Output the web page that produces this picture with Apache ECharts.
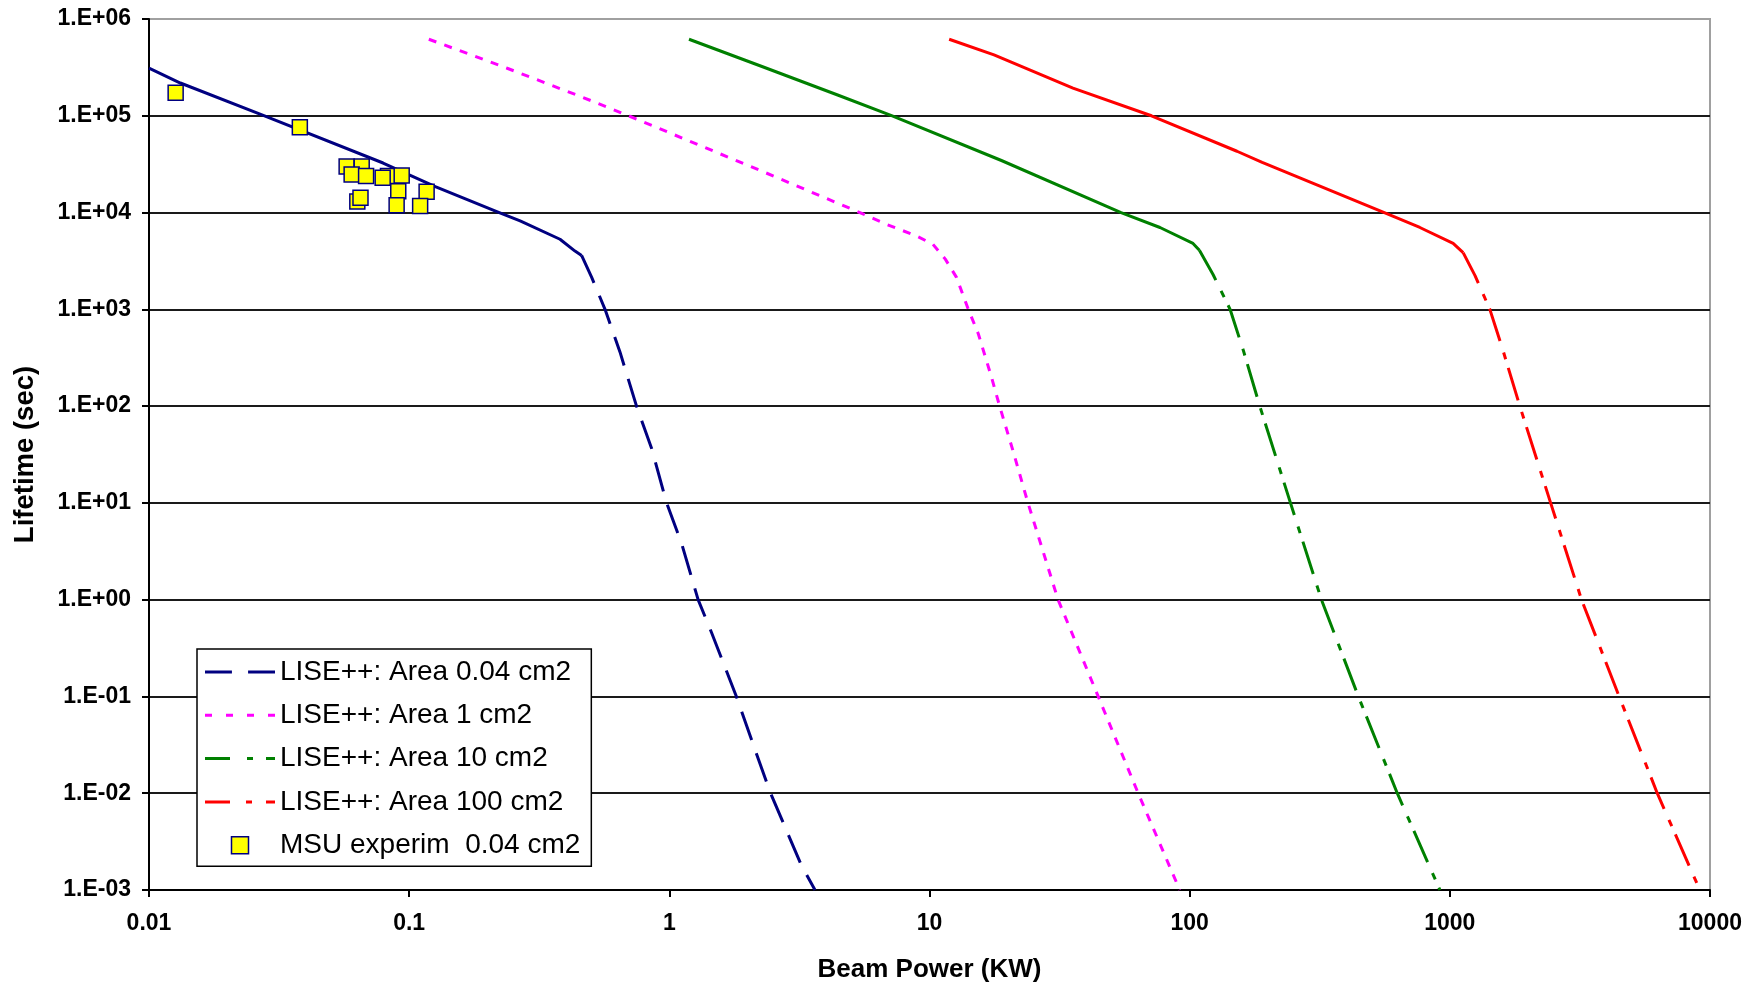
<!DOCTYPE html>
<html>
<head>
<meta charset="utf-8">
<script src="https://cdn.jsdelivr.net/npm/echarts@6/dist/echarts.min.js"></script>
<style>
html,body{margin:0;padding:0;background:#ffffff;}
#chart{width:1755px;height:988px;}
</style>
</head>
<body>
<div id="chart"></div>
<script>
// ---------------- DATA ----------------
const seriesNames = [
  'LISE++: Area 0.04 cm2',
  'LISE++: Area 1 cm2',
  'LISE++: Area 10 cm2',
  'LISE++: Area 100 cm2',
  'MSU experim  0.04 cm2'
];

const xTickLabels = ['0.01', '0.1', '1', '10', '100', '1000', '10000'];
const yTickLabels = ['1.E-03', '1.E-02', '1.E-01', '1.E+00', '1.E+01', '1.E+02', '1.E+03', '1.E+04', '1.E+05', '1.E+06'];

// Area 0.04 cm2 : beam power (kW) / lifetime (s)
const blueUpperP = [0.01, 0.0132, 0.0278, 0.0794, 0.126, 0.222, 0.267, 0.38, 0.434, 0.46];
const blueUpperT = [3.1e5, 2.18e5, 1.0e5, 3.25e4, 1.85e4, 1.0e4, 8.2e3, 5.3e3, 4.0e3, 3.6e3];
const blueLowerP = [0.503, 0.566, 0.646, 0.748, 0.855, 0.976, 1.114, 1.29, 1.455, 1.81, 2.2, 2.45, 3.22, 3.63];
const blueLowerT = [2140, 1000, 363, 100, 36.4, 10, 3.83, 1.0, 0.453, 0.1, 0.0224, 0.01, 0.00179, 0.001];

// Area 1 cm2
const magentaP = [0.119, 0.238, 0.462, 0.697, 2.32, 5.4, 6.84, 8.91, 10.3, 11.5, 12.7, 14.1, 15.4, 17.3, 18.6, 21.0, 23.9, 31.2, 44.5, 63.4, 91.6];
const magentaT = [6.18e5, 3.1e5, 1.56e5, 1.0e5, 2.61e4, 1.0e4, 7550, 5730, 4710, 3300, 2140, 1000, 560, 200, 100, 33.6, 10, 1.0, 0.1, 0.01, 0.001];

// Area 10 cm2
const greenUpperP = [1.19, 2.27, 4.41, 7.19, 18.9, 54.5, 76.9, 103, 109];
const greenUpperT = [6.18e5, 3.23e5, 1.65e5, 1.0e5, 3.45e4, 1.0e4, 7010, 4800, 4070];
const greenLowerP = [123, 143, 161, 186, 244, 321, 445, 628, 916];
const greenLowerT = [2290, 1000, 372, 100, 10, 1.0, 0.1, 0.01, 0.001];

// Area 100 cm2
const redUpperP = [11.9, 17.7, 35.6, 71.3, 152, 190, 560, 767, 1030, 1125];
const redUpperT = [6.18e5, 4.26e5, 1.93e5, 1.0e5, 4.3e4, 3.3e4, 1.0e4, 7010, 4800, 3850];
const redLowerP = [1250, 1425, 1603, 1858, 2440, 3208, 4475, 6270, 9140];
const redLowerT = [2230, 1000, 372, 100, 10, 1.0, 0.1, 0.01, 0.001];

// MSU experimental points, 0.04 cm2
const msuP = [0.01266, 0.038, 0.0575, 0.0657, 0.0601, 0.0683, 0.0829, 0.0791, 0.0936, 0.0908, 0.1167, 0.0632, 0.065, 0.0895, 0.1102];
const msuT = [1.73e5, 7.6e4, 3.0e4, 3.0e4, 2.47e4, 2.38e4, 2.38e4, 2.29e4, 2.42e4, 1.66e4, 1.64e4, 1.30e4, 1.42e4, 1.19e4, 1.17e4];

// ---------------- CHART ----------------
const FONT = '"Liberation Sans", Arial, sans-serif';
const NAVY = '#000080', MAGENTA = '#FF00FF', GREEN = '#008000', RED = '#FF0000', YELLOW = '#FFFF00';

function pairs(p, t) { return p.map(function (v, i) { return [v, t[i]]; }); }
function joinLower(upP, upT, loP, loT) {
  const n = upP.length - 1;
  return [[upP[n], upT[n]]].concat(pairs(loP, loT));
}

function lineSeries(name, data, color, type, z) {
  return {
    name: name, type: 'line', data: data, symbol: 'none', smooth: false,
    silent: true, z: z || 2,
    itemStyle: { color: color },
    lineStyle: { color: color, width: 3, type: type, cap: 'butt', join: 'round' }
  };
}

const option = {
  animation: false,
  backgroundColor: '#ffffff',
  grid: {
    left: 149, right: 45, top: 19, bottom: 95,
    show: true, backgroundColor: '#ffffff', borderColor: '#a0a0a0', borderWidth: 2
  },
  legend: {
    orient: 'vertical', left: 197, top: 649,
    padding: [9, 11, 7, 8], itemGap: 15.3, itemWidth: 70, itemHeight: 17,
    borderColor: '#000000', borderWidth: 1.5, backgroundColor: '#ffffff',
    selectedMode: false,
    textStyle: { fontSize: 28, fontFamily: FONT, color: '#000000' },
    data: [
      { name: seriesNames[0], icon: 'path://M0,0h25v3h-25z M40,0h25v3h-25z', itemStyle: { color: NAVY, borderWidth: 0 } },
      { name: seriesNames[1], icon: 'path://M0,0h7v3h-7z M21,0h7v3h-7z M42,0h7v3h-7z M63,0h7v3h-7z', itemStyle: { color: MAGENTA, borderWidth: 0 } },
      { name: seriesNames[2], icon: 'path://M0,0h25v3h-25z M42,0h6v3h-6z M61,0h9v3h-9z', itemStyle: { color: GREEN, borderWidth: 0 } },
      { name: seriesNames[3], icon: 'path://M0,0h25v3h-25z M41,0h6v3h-6z M61,0h9v3h-9z', itemStyle: { color: RED, borderWidth: 0 } },
      { name: seriesNames[4], icon: 'path://M0,0h10v10h-10z', itemStyle: { color: YELLOW, borderColor: NAVY, borderWidth: 1.5 } }
    ]
  },
  xAxis: {
    type: 'log', logBase: 10, min: 0.01, max: 10000, splitNumber: 10,
    name: 'Beam Power (KW)', nameLocation: 'middle', nameGap: 67,
    nameTextStyle: { fontSize: 26, fontWeight: 'bold', color: '#000000', fontFamily: FONT },
    axisLine: { show: true, onZero: false, lineStyle: { color: '#000000', width: 2 } },
    axisTick: { show: true, length: 7, lineStyle: { color: '#000000', width: 2 } },
    axisLabel: {
      fontSize: 23, fontWeight: 'bold', color: '#000000', fontFamily: FONT, margin: 22,
      formatter: function (v) { return xTickLabels[Math.round(Math.log10(v)) + 2]; }
    },
    splitLine: { show: false }
  },
  yAxis: {
    type: 'log', logBase: 10, min: 0.001, max: 1000000, splitNumber: 10,
    name: 'Lifetime (sec)', nameLocation: 'middle', nameGap: 110, nameRotate: 90,
    nameTextStyle: { fontSize: 27.5, fontWeight: 'bold', color: '#000000', fontFamily: FONT },
    axisLine: { show: true, onZero: false, lineStyle: { color: '#000000', width: 2 } },
    axisTick: { show: true, length: 7, lineStyle: { color: '#000000', width: 2 } },
    axisLabel: {
      fontSize: 23, fontWeight: 'bold', color: '#000000', fontFamily: FONT, margin: 18,
      formatter: function (v) { return yTickLabels[Math.round(Math.log10(v)) + 3]; }
    },
    splitLine: { show: true, showMaxLine: false, lineStyle: { color: '#1a1a1a', width: 2 } }
  },
  series: [
    lineSeries(seriesNames[0], pairs(blueUpperP, blueUpperT), NAVY, 'solid'),
    lineSeries(seriesNames[0], joinLower(blueUpperP, blueUpperT, blueLowerP, blueLowerT), NAVY, [30, 14]),
    lineSeries(seriesNames[1], pairs(magentaP, magentaT), MAGENTA, [8, 8.5]),
    lineSeries(seriesNames[2], pairs(greenUpperP, greenUpperT), GREEN, 'solid'),
    lineSeries(seriesNames[2], joinLower(greenUpperP, greenUpperT, greenLowerP, greenLowerT), GREEN, [34, 12, 7, 9]),
    lineSeries(seriesNames[3], pairs(redUpperP, redUpperT), RED, 'solid'),
    lineSeries(seriesNames[3], joinLower(redUpperP, redUpperT, redLowerP, redLowerT), RED, [34, 12, 7, 9]),
    {
      name: seriesNames[4], type: 'scatter', data: pairs(msuP, msuT),
      symbol: 'rect', symbolSize: 15, silent: true, z: 5,
      itemStyle: { color: YELLOW, borderColor: NAVY, borderWidth: 1.5, opacity: 1 }
    }
  ]
};

const chart = echarts.init(document.getElementById('chart'), null, { renderer: 'canvas' });
chart.setOption(option);
</script>
</body>
</html>
